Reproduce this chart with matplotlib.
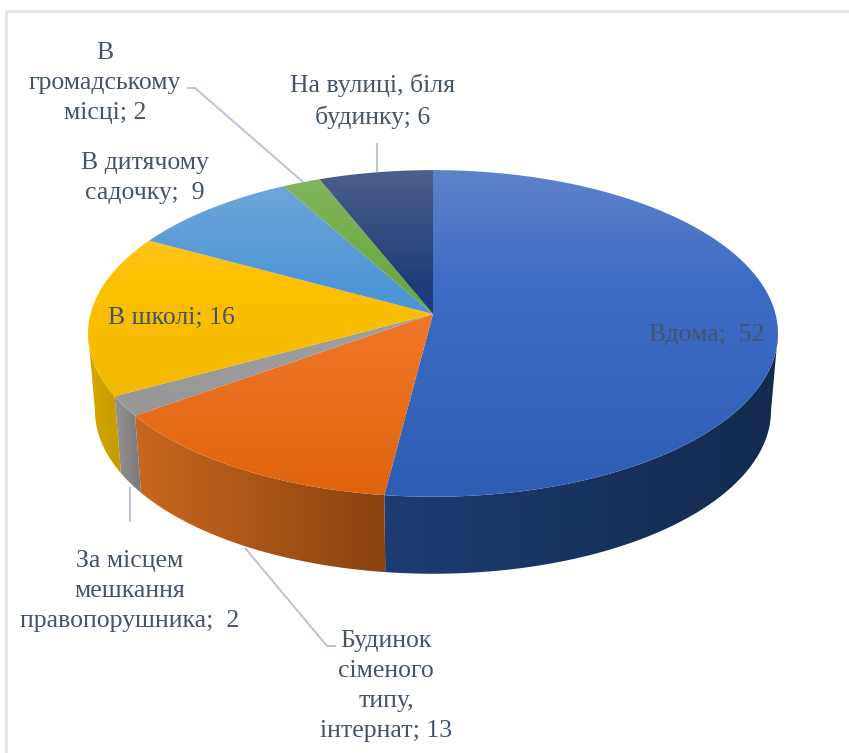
# plot.py
# 3D looking pie chart, places where the offences happened

import numpy as np
import matplotlib
matplotlib.use('Agg')
import matplotlib.pyplot as plt
from matplotlib.colors import to_rgb
from matplotlib.patches import Polygon, Rectangle

plt.rcParams['font.family'] = ['Liberation Serif', 'DejaVu Serif']

labels = ['Вдома;  52', 'Будинок\nсіменого\nтипу,\nінтернат; 13', 'За місцем\nмешкання\nправопорушника;  2',
          'В школі; 16', 'В дитячому\nсадочку;  9', 'В\nгромадському\nмісці; 2', 'На вулиці, біля\nбудинку; 6']
values = [52, 13, 2, 16, 9, 2, 6]

top_light = ['#5f83cb', '#f4874a', '#b5b5b5', '#ffc94a', '#72a8da', '#84b560', '#4d5e8c']
top_mid = ['#3c6cc4', '#f27a2e', '#a3a3a3', '#fdc000', '#4f96d6', '#6aaa3c', '#1f3d7a']
top_dark = ['#2e5eb4', '#e0640f', '#8f8f8f', '#e8b400', '#4a8fd3', '#64a638', '#1c3a76']
side_left = ['#1d3c73', '#c9681f', '#939393', '#d8a800', '#3a6a99', '#4c7a2c', '#16294e']
side_right = ['#142a4e', '#8a4210', '#787878', '#c49a00', '#3a6a99', '#4c7a2c', '#16294e']

# where the disc sits on the canvas, in pixels
apex_x = 433
apex_y = 314
rad_x = 342.5
rad_y = 161
persp = 0.119
depth = 77
rim_scale = 0.98

label_pos = [(707, 335), (386, 686), (130, 591), (171, 318), (145, 178), (105, 83), (373, 101)]
leaders = [
    ([187, 195, 303], [88, 88, 182]),
    ([377, 377], [143, 172]),
    ([130, 130], [487, 522]),
    ([245, 327, 336], [548, 646, 646]),
]


# angle is clockwise from the back of the pie
def project(theta) :
    u = np.sin(theta)
    v = np.cos(theta)
    w = 1 + persp * v
    return u * rad_x / w, -v * rad_y / w


def gradient(c1, c2, vertical) :
    a = np.array(to_rgb(c1))
    b = np.array(to_rgb(c2))
    t = np.linspace(0, 1, 256)[:, None]
    img = a + (b - a) * t
    if vertical :
        return img[:, None, :]
    return img[None, :, :]


def gradient3(c1, c2, c3, pos) :
    t = np.linspace(0, 1, 256)
    stops = np.array([to_rgb(c1), to_rgb(c2), to_rgb(c3)])
    img = np.column_stack([np.interp(t, [0, pos, 1], stops[:, k]) for k in range(3)])
    return img[:, None, :]


W, H = 849, 753
fig = plt.figure(figsize=(W / 100, H / 100), dpi=100)
ax = fig.add_axes([0, 0, 1, 1])

ax.add_patch(Rectangle((6, 11), W, H, fill=False, edgecolor='#dfe5ef', linewidth=2))

fracs = np.cumsum([0] + values) / sum(values)
angles = fracs * 2 * np.pi

# only the part of the wall between the two side extremes can be seen
vis_start = np.arccos(-persp)
vis_end = 2 * np.pi - vis_start

for i in range(len(values)) :
    a0 = max(angles[i], vis_start)
    a1 = min(angles[i + 1], vis_end)
    if a1 <= a0 :
        continue
    th = np.linspace(a0, a1, 200)
    dx, dy = project(th)
    top_pts = np.column_stack([apex_x + dx, apex_y + dy])
    bot_pts = np.column_stack([apex_x + dx * rim_scale, apex_y + dy + depth])
    pts = np.vstack([top_pts, bot_pts[::-1]])
    poly = Polygon(pts, closed=True, facecolor='none', edgecolor='none')
    ax.add_patch(poly)
    im = ax.imshow(gradient(side_left[i], side_right[i], False), aspect='auto', zorder=1,
                   extent=(pts[:, 0].min(), pts[:, 0].max(), pts[:, 1].max(), pts[:, 1].min()))
    im.set_clip_path(poly)

y_top = apex_y - rad_y / (1 + persp)
y_bot = apex_y + rad_y / (1 - persp)
for i in range(len(values)) :
    th = np.linspace(angles[i], angles[i + 1], 200)
    dx, dy = project(th)
    pts = np.vstack([[apex_x, apex_y], np.column_stack([apex_x + dx, apex_y + dy])])
    poly = Polygon(pts, closed=True, facecolor='none', edgecolor='none')
    ax.add_patch(poly)
    im = ax.imshow(gradient3(top_light[i], top_mid[i], top_dark[i], 0.35), aspect='auto', zorder=2,
                   extent=(apex_x - rad_x * 1.01, apex_x + rad_x * 1.01, y_bot, y_top))
    im.set_clip_path(poly)

for xs, ys in leaders :
    ax.plot(xs, ys, color='#b9c3d4', linewidth=1.4, zorder=1.5, solid_capstyle='butt')

for txt, (x, y) in zip(labels, label_pos) :
    ax.text(x, y, txt, ha='center', va='center', color='#44546a', fontsize=18.5,
            linespacing=1.48, zorder=3)

ax.set_xlim(0, W)
ax.set_ylim(H, 0)
ax.axis('off')
fig.savefig('out.png', dpi=100, facecolor='white')
